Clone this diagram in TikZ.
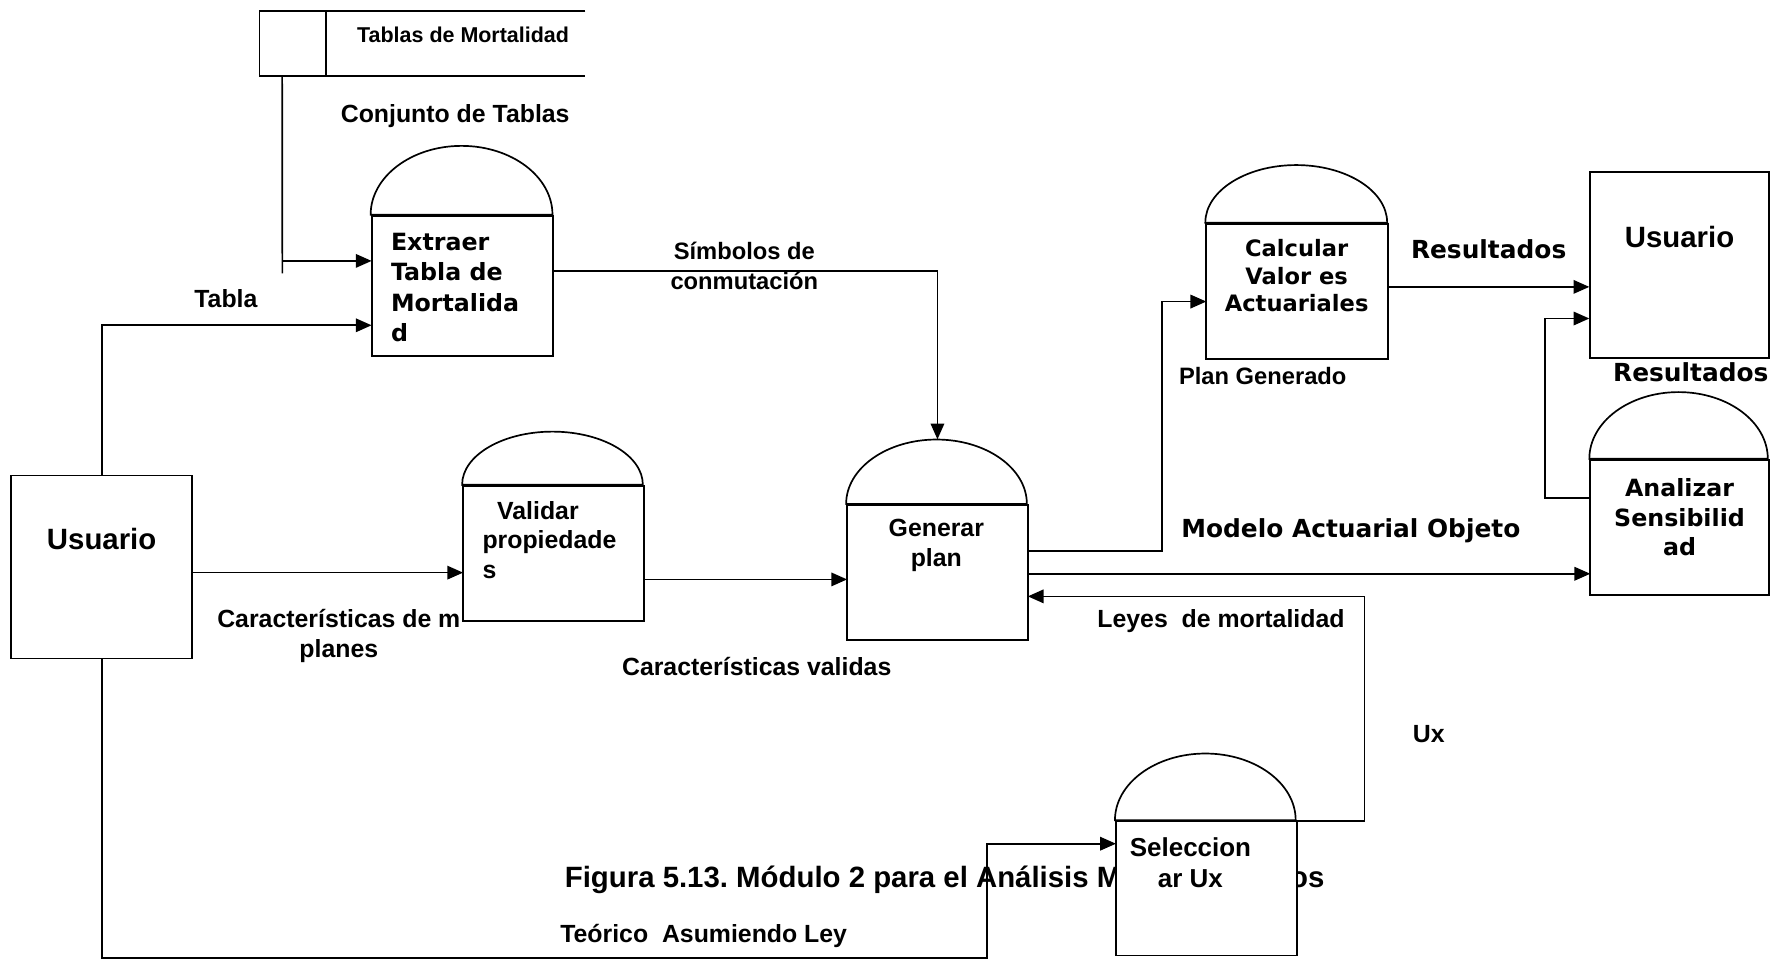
\documentclass[tikz,border=0pt]{standalone}
\usepackage{fontspec}
\setmainfont{Liberation Sans}
\newfontfamily\verd{DejaVu Sans}
\usetikzlibrary{arrows.meta}
\tikzset{
  ln/.style={line width=1.5pt},
  arr/.style={line width=1.5pt,-{Triangle[length=14pt,width=12pt]}},
  boxshape/.style={draw,line width=1.7pt,fill=white,inner sep=0pt},
  lab/.style={font=\fontsize{22}{26}\selectfont\bfseries,inner sep=0pt,align=center},
  vlab/.style={font=\verd\fontsize{21}{27}\selectfont\bfseries,inner sep=0pt,align=center},
}
\newcommand{\domeon}[3]{\draw[line width=1.5pt,fill=white] (#1.north west) arc[start angle=180,end angle=0,x radius=#2,y radius=#3] -- cycle;}
\frenchspacing
\begin{document}
\begin{tikzpicture}[x=1pt,y=-1pt]
\useasboundingbox (0,0) rectangle (1568,850);

% caption (partly hidden by the Seleccionar box)
\node[font=\fontsize{26}{30}\selectfont\bfseries,inner sep=0pt,anchor=east] (cap1) at (993,779) {Figura 5.13. Módulo 2 para el Análisis M};
\node[font=\fontsize{26}{30}\selectfont\bfseries,inner sep=0pt,anchor=west] (cap2) at (1142,779) {os};

% data store
\node[inner sep=0pt,minimum width=288pt,minimum height=57pt] (store) at (374,38.5) {};
\draw[ln] (store.north east) -- (store.north west) -- (store.south west) -- (store.south east);
\draw[ln] ([xshift=59pt]store.north west) -- ([xshift=59pt]store.south west);
\node[font=\fontsize{19}{23}\selectfont\bfseries,inner sep=0pt] (storetxt) at (410,31) {Tablas de Mortalidad};

% nodes
\node[boxshape,minimum width=160pt,minimum height=162pt] (u1) at (90,502) {};
\node[boxshape,minimum width=158pt,minimum height=165pt] (u2) at (1487,234.5) {};

% connectors
\draw[ln] ([xshift=20pt]store.south west) -- (250,242);
\draw[arr] (250,231) -- (329,231);
\draw[arr] (u1.north) |- (329,288);
\draw[arr] (u1.east |- 0,507) -- (410,507);
\draw[arr] (570,513) -- (750,513);
\draw[arr] (490,240) -| (830,389);
\draw[arr] (910,488) -- (1029,488) |- (1068,267);
\draw[arr] (910,508) -- (1408,508);
\draw[arr] (1148,727) -- (1208,727) |- (910,528);
\draw[arr] (u1.south) -- (90,848) -- (874,848) |- (988,747);
\draw[arr] (1229,254) -- (u2.west |- 0,254);
\draw[arr] (1408,441) -- (1368,441) |- (u2.west |- 0,282);

% process boxes
\node[boxshape,minimum width=161pt,minimum height=124pt] (ext) at (409.5,253) {};
\domeon{ext}{80.5pt}{61pt}
\node[boxshape,minimum width=160pt,minimum height=120pt] (val) at (490,490) {};
\domeon{val}{80pt}{47pt}
\node[boxshape,minimum width=160pt,minimum height=120pt] (gen) at (830,507) {};
\domeon{gen}{80pt}{57pt}
\node[boxshape,minimum width=161pt,minimum height=120pt] (cal) at (1148.5,258) {};
\domeon{cal}{80.5pt}{51pt}
\node[boxshape,minimum width=158pt,minimum height=120pt] (ana) at (1487,467) {};
\domeon{ana}{79pt}{59pt}
\node[boxshape,minimum width=160pt,minimum height=119pt] (sel) at (1068,786.5) {};
\domeon{sel}{80pt}{59pt}

% texts in boxes
\node[lab,font=\fontsize{26}{30}\selectfont\bfseries] (u1t) at (90,477) {Usuario};
\node[lab,font=\fontsize{26}{30}\selectfont\bfseries] (u2t) at (1487,210) {Usuario};
\node[vlab,align=left,anchor=west] (extt) at (346,254.5) {Extraer\\Tabla de\\Mortalida\\d};
\node[lab,align=left,anchor=west] (valt) at (427,478) {\hspace*{13pt}Validar\\propiedade\\s};
\node[lab] (gent) at (829,483) {Generar\\plan};
\node[vlab,font=\verd\fontsize{20}{24}\selectfont\bfseries] (calt) at (1148,244) {Calcular\\Valor es\\Actuariales};
\node[vlab,font=\verd\fontsize{21}{26}\selectfont\bfseries] (anat) at (1487,458) {Analizar\\Sensibilid\\ad};
\node[lab,font=\fontsize{23}{27}\selectfont\bfseries] (selt) at (1054,764) {Seleccion\\ar Ux};

% connector labels
\node[lab] (l1) at (403,103) {Conjunto de Tablas};
\node[lab] (l2) at (200,264) {Tabla};
\node[lab,font=\fontsize{21}{27}\selectfont\bfseries] (l3) at (659,235.5) {Símbolos de\\conmutación};
\node[lab] (l4) at (300,563) {Características de m\\planes};
\node[lab] (l5) at (670,590) {Características validas};
\node[lab,font=\fontsize{21}{26}\selectfont\bfseries] (l6) at (1118,333) {Plan Generado};
\node[vlab,font=\verd\fontsize{22}{26}\selectfont\bfseries] (l7) at (1318,221) {Resultados};
\node[vlab,font=\verd\fontsize{22}{26}\selectfont\bfseries] (l8) at (1497,330) {Resultados};
\node[vlab,font=\verd\fontsize{22}{26}\selectfont\bfseries] (l9) at (1196,470) {Modelo Actuarial Objeto};
\node[lab] (l10) at (1081,550) {Leyes\ \ de mortalidad};
\node[lab] (l11) at (1265,650) {Ux};
\node[lab] (l12) at (623,829) {Teórico\ \ Asumiendo Ley};
\end{tikzpicture}
\end{document}
